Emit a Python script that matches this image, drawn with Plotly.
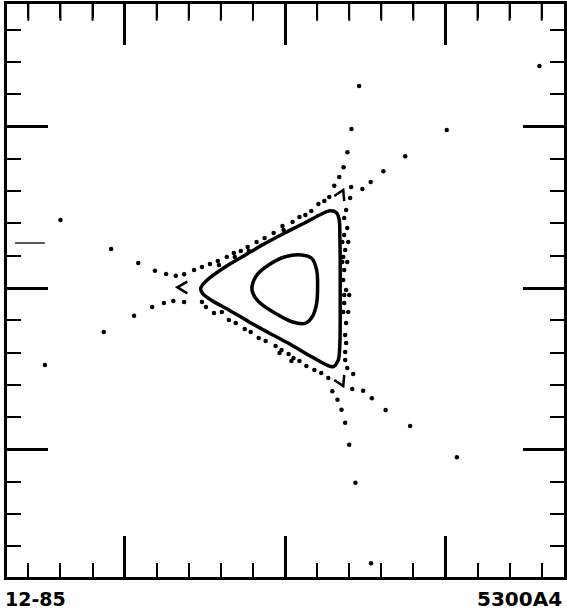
import plotly.graph_objects as go

# ---- data (phase-space coordinates, arbitrary units) ----
# outer invariant curve (closed)
outer_x = [-0.526, -0.511, -0.454, -0.350, -0.226, -0.102, 0.022, 0.146, 0.259, 0.301,
           0.332, 0.342, 0.344, 0.344, 0.344, 0.342, 0.338, 0.321, 0.280, 0.228,
           0.125, 0.001, -0.123, -0.247, -0.371, -0.485, -0.526]
outer_y = [-0.002, -0.037, -0.079, -0.136, -0.209, -0.277, -0.343, -0.415, -0.477, -0.488,
           -0.446, -0.343, -0.178, -0.012, 0.153, 0.318, 0.422, 0.467, 0.479, 0.459,
           0.405, 0.343, 0.277, 0.205, 0.132, 0.050, -0.002]

# inner invariant curve (closed)
inner_x = [-0.206, -0.175, -0.102, 0.001, 0.104, 0.166, 0.197, 0.203, 0.197, 0.170,
           0.125, 0.042, -0.061, -0.164, -0.200, -0.206]
inner_y = [0.008, 0.081, 0.143, 0.194, 0.205, 0.184, 0.112, 0.008, -0.095, -0.178,
           -0.219, -0.209, -0.157, -0.085, -0.033, 0.008]

# hyperbolic-point chevrons (arm end, tip, arm end)
chev_x = [-0.609, -0.671, -0.609, None, 0.307, 0.363, 0.369, None, 0.307, 0.363, 0.369]
chev_y = [0.039, 0.004, -0.033, None, 0.570, 0.608, 0.539, None, -0.570, -0.608, -0.539]

# scattered orbit points
dots_x = [
    # upper-right branches
    1.586, 1.008, 0.462, 0.414, 0.389, 0.365, 0.338, 0.307, 0.412, 0.482, 0.534, 0.613, 0.749,
    # lower-right branches
    1.071, 0.780, 0.627, 0.541, 0.487, 0.419, 0.295, 0.327, 0.352, 0.375, 0.400, 0.439, 0.536,
    # left branches
    -1.400, -1.084, -0.915, -0.811, -0.741, -0.681, -0.629,
    -0.696, -0.755, -0.828, -0.941, -1.130, -1.497, -0.629,
    # upper edge row
    -0.567, -0.518, -0.468, -0.419, -0.412, -0.363, -0.319, -0.313, -0.276, -0.233, -0.226,
    -0.177, -0.127, -0.071, -0.016, -0.009, 0.047, 0.090, 0.127, 0.164, 0.208, 0.245, 0.276,
    # right edge column
    0.381, 0.406, 0.369, 0.388, 0.369, 0.357, 0.394, 0.375, 0.363, 0.357, 0.388, 0.369,
    0.363, 0.381, 0.369, 0.400, 0.369, 0.363, 0.394, 0.381, 0.375, 0.381, 0.375, 0.375,
    0.388, 0.425,
    # lower edge row
    -0.518, -0.493, -0.443, -0.394, -0.350, -0.307, -0.251, -0.214, -0.164, -0.121, -0.059,
    -0.022, -0.034, 0.022, 0.053, 0.040, 0.090, 0.133, 0.183, 0.226, 0.270,
]
dots_y = [
    1.376, 0.980, 1.252, 0.986, 0.841, 0.748, 0.688, 0.634, 0.626, 0.614, 0.657, 0.724, 0.817,
    -1.050, -0.856, -0.756, -0.684, -0.637, -0.626, -0.640, -0.693, -0.755, -0.835, -0.972, -1.207, -1.707,
    0.422, 0.242, 0.155, 0.107, 0.087, 0.076, 0.085,
    -0.081, -0.093, -0.118, -0.172, -0.273, -0.477, -0.087,
    0.112, 0.130, 0.149, 0.167, 0.143, 0.192, 0.217, 0.192, 0.229, 0.254, 0.229,
    0.285, 0.310, 0.341, 0.384, 0.360, 0.409, 0.440, 0.453, 0.477, 0.521, 0.539, 0.564,
    0.484, 0.558, 0.434, 0.372, 0.329, 0.285, 0.285, 0.236, 0.192, 0.161, 0.161, 0.112,
    0.050, -0.012, -0.043, -0.043, -0.093, -0.149, -0.149, -0.217, -0.291, -0.341, -0.397, -0.446,
    -0.496, -0.533,
    -0.087, -0.118, -0.155, -0.149, -0.198, -0.217, -0.254, -0.273, -0.310, -0.329, -0.360,
    -0.384, -0.403, -0.409, -0.434, -0.453, -0.453, -0.484, -0.508, -0.527, -0.558,
]

# stray reference dash at the left edge
dash_x = [-1.683, -1.497]
dash_y = [0.279, 0.279]

# minor tick values along the top edge and the level at which they hang
top_minor_ticks = [-1.6, -1.4, -1.2, -0.8, -0.6, -0.4, -0.2,
                   0.2, 0.4, 0.6, 0.8, 1.2, 1.4, 1.6]
top_tick_level = 1.718

x_range = [-1.733, 1.739]
y_range = [-1.792, 1.761]

fig = go.Figure()
fig.add_trace(go.Scatter(x=outer_x, y=outer_y, mode="lines",
                         line=dict(color="black", width=3.5, shape="spline", smoothing=0.8)))
fig.add_trace(go.Scatter(x=inner_x, y=inner_y, mode="lines",
                         line=dict(color="black", width=3.5, shape="spline", smoothing=1.0)))
fig.add_trace(go.Scatter(x=chev_x, y=chev_y, mode="lines",
                         line=dict(color="black", width=2.5)))
fig.add_trace(go.Scatter(x=dots_x, y=dots_y, mode="markers",
                         marker=dict(color="black", size=4.5)))
fig.add_trace(go.Scatter(x=dash_x, y=dash_y, mode="lines",
                         line=dict(color="black", width=1.3)))
# top-edge minor ticks (tick marks hanging from the upper frame)
fig.add_trace(go.Scatter(x=top_minor_ticks, y=[top_tick_level] * len(top_minor_ticks),
                         mode="markers", cliponaxis=False, hoverinfo="skip",
                         marker=dict(symbol="line-ns", size=14, color="black",
                                     line=dict(width=2, color="black"))))

tick_style = dict(
    ticks="inside", ticklen=41, tickwidth=2.5, tickcolor="black",
    tick0=0, dtick=1, showticklabels=False, showgrid=False, zeroline=False,
    minor=dict(ticks="inside", ticklen=14, tickwidth=2, tickcolor="black",
               tick0=0, dtick=0.2, showgrid=False),
)

fig.update_layout(
    width=567, height=615,
    margin=dict(l=7, r=0, t=4, b=38),
    plot_bgcolor="white", paper_bgcolor="white",
    showlegend=False,
    xaxis=dict(range=x_range, showline=True, linecolor="black", linewidth=2.5,
               mirror="ticks", **tick_style),
    yaxis=dict(range=y_range, showline=True, linecolor="black", linewidth=2.5,
               mirror="ticks", **tick_style),
    annotations=[
        dict(text="<b>12-85</b>", xref="paper", yref="paper", x=-0.007, y=-0.038,
             xanchor="left", yanchor="middle", showarrow=False,
             font=dict(family="DejaVu Sans", size=19, color="black")),
        dict(text="<b>5300A4</b>", xref="paper", yref="paper", x=1.0, y=-0.038,
             xanchor="right", yanchor="middle", showarrow=False,
             font=dict(family="DejaVu Sans", size=20, color="black")),
    ],
)

fig.write_html(
    "out.html",
    config={"responsive": False, "displayModeBar": False},
    post_script="document.body.style.margin='0px';document.body.style.overflow='hidden';",
)
